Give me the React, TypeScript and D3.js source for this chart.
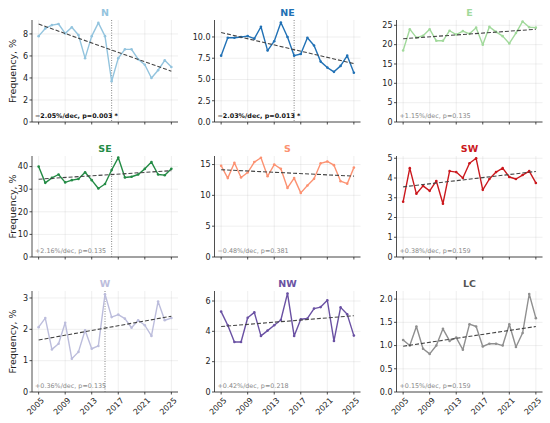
import React from 'react';
import * as d3 from 'd3';

const years = [2005, 2006, 2007, 2008, 2009, 2010, 2011, 2012, 2013, 2014, 2015, 2016, 2017, 2018, 2019, 2020, 2021, 2022, 2023, 2024, 2025];
const xTicks = [2005, 2009, 2013, 2017, 2021, 2025];

const nVals = [7.8, 8.5, 8.8, 8.9, 8.05, 8.6, 7.9, 5.8, 7.8, 9.0, 7.8, 3.7, 5.8, 6.6, 6.6, 5.7, 5.2, 4.0, 4.7, 5.6, 5.0];
const neVals = [7.8, 9.9, 9.9, 10.0, 10.1, 9.8, 11.2, 8.4, 9.5, 11.7, 10.0, 7.8, 8.0, 9.9, 9.0, 7.1, 6.4, 5.9, 6.6, 7.8, 5.8];
const eVals = [18.5, 24.0, 21.8, 22.3, 24.0, 21.0, 21.0, 23.6, 22.6, 23.5, 22.8, 24.4, 20.0, 24.6, 23.3, 22.2, 20.3, 23.0, 26.0, 24.5, 24.4];
const seVals = [40.0, 32.8, 35.0, 36.5, 33.0, 34.0, 34.5, 37.5, 34.0, 30.3, 32.3, 38.5, 44.0, 35.2, 35.5, 36.5, 39.0, 42.0, 36.5, 36.2, 39.0];
const sVals = [14.8, 12.8, 15.3, 12.9, 13.7, 15.4, 16.1, 13.1, 15.0, 14.3, 11.2, 12.8, 10.4, 11.6, 12.7, 15.2, 15.5, 14.9, 12.3, 11.9, 14.5];
const swVals = [2.8, 4.5, 3.2, 3.6, 3.35, 3.85, 2.7, 4.35, 4.3, 4.0, 4.75, 5.0, 3.4, 3.95, 4.3, 4.5, 4.05, 3.95, 4.15, 4.35, 3.75];
const wVals = [2.07, 2.36, 1.36, 1.54, 2.21, 1.06, 1.28, 1.97, 1.38, 1.47, 3.12, 2.39, 2.47, 2.34, 2.05, 2.29, 2.13, 1.79, 2.89, 2.29, 2.36];
const nwVals = [5.3, 4.4, 3.3, 3.3, 4.9, 5.25, 3.7, 4.05, 4.4, 4.75, 6.5, 3.7, 4.8, 4.85, 5.5, 5.6, 6.05, 3.37, 5.58, 5.12, 3.72];
const lcVals = [1.12, 1.0, 1.41, 0.93, 0.82, 1.0, 1.36, 1.1, 1.17, 0.91, 1.46, 1.41, 0.98, 1.04, 1.04, 1.0, 1.46, 0.97, 1.27, 2.11, 1.59];

const names = ['N', 'NE', 'E', 'SE', 'S', 'SW', 'W', 'NW', 'LC'];
const seriesValues = [nVals, neVals, eVals, seVals, sVals, swVals, wVals, nwVals, lcVals];
const lineColors = ['#93c4de', '#2171b5', '#a1d99b', '#238b45', '#fc9272', '#cb181d', '#bcbddc', '#6a51a3', '#8f8f8f'];
const titleColors = ['#93c4de', '#2171b5', '#a1d99b', '#238b45', '#fc9272', '#cb181d', '#bcbddc', '#6a51a3', '#555555'];
const yTickSets = [
  [0, 2, 4, 6, 8],
  [0, 2.5, 5, 7.5, 10],
  [0, 5, 10, 15, 20, 25],
  [0, 10, 20, 30, 40],
  [0, 5, 10, 15],
  [0, 1, 2, 3, 4, 5],
  [0, 1, 2, 3],
  [0, 2, 4, 6],
  [0, 0.5, 1, 1.5, 2],
];
const yTickFormats = ['d', '.1f', 'd', 'd', 'd', 'd', 'd', 'd', '.1f'];
const trendLabels = [
  '\u22122.05%/dec, p=0.003 *',
  '\u22122.03%/dec, p=0.013 *',
  '+1.15%/dec, p=0.135',
  '+2.16%/dec, p=0.135',
  '\u22120.48%/dec, p=0.381',
  '+0.38%/dec, p=0.159',
  '+0.36%/dec, p=0.135',
  '+0.42%/dec, p=0.218',
  '+0.15%/dec, p=0.159',
];
const significant = [true, true, false, false, false, false, false, false, false];
const changeYears = [2016, 2016, null, 2016, null, null, 2015, null, null];

const colLefts = [32, 214.5, 396.5];
const panelW = 146;
const rowTops = [20, 156, 291];
const rowBottoms = [122, 257, 392];
const FONT = 'DejaVu Sans, sans-serif';

function regression(xs: number[], ys: number[]) {
  const mx = d3.mean(xs) as number;
  const my = d3.mean(ys) as number;
  let sxy = 0, sxx = 0;
  xs.forEach((x, i) => { sxy += (x - mx) * (ys[i] - my); sxx += (x - mx) * (x - mx); });
  const b = sxy / sxx;
  return (x: number) => my + b * (x - mx);
}

function Panel({ idx }: { idx: number }) {
  const col = idx % 3;
  const row = Math.floor(idx / 3);
  const left = colLefts[col];
  const right = left + panelW;
  const top = rowTops[row];
  const bottom = rowBottoms[row];
  const vals = seriesValues[idx];
  const color = lineColors[idx];
  const fit = regression(years, vals);
  const x0 = years[0], x1 = years[years.length - 1];
  const allY = [...vals, fit(x0), fit(x1)];
  const mx = d3.max(allY) as number;
  const mn = d3.min(allY) as number;
  const x = d3.scaleLinear().domain([x0 - 1, x1 + 1]).range([left, right]);
  const y = d3.scaleLinear().domain([0, mx + 0.05 * (mx - mn)]).range([bottom, top]);
  const line = d3.line<number>().x((_, i) => x(years[i])).y((d) => y(d));
  const fmt = d3.format(yTickFormats[idx]);
  const cy = changeYears[idx];
  const sig = significant[idx];
  return (
    <g>
      {xTicks.map((t) => (
        <line key={'gx' + t} x1={x(t)} x2={x(t)} y1={top} y2={bottom} stroke="#b0b0b0" strokeOpacity={0.35} strokeWidth={0.6} />
      ))}
      {yTickSets[idx].map((t) => (
        <line key={'gy' + t} x1={left} x2={right} y1={y(t)} y2={y(t)} stroke="#b0b0b0" strokeOpacity={0.35} strokeWidth={0.6} />
      ))}
      <line x1={left} x2={left} y1={top} y2={bottom} stroke="#222" strokeWidth={0.8} />
      <line x1={left} x2={right} y1={bottom} y2={bottom} stroke="#222" strokeWidth={0.8} />
      {yTickSets[idx].map((t) => (
        <g key={'ty' + t}>
          <line x1={left - 2.5} x2={left} y1={y(t)} y2={y(t)} stroke="#222" strokeWidth={0.8} />
          <text x={left - 4} y={y(t)} dy="0.35em" textAnchor="end" fontSize={8} fontFamily={FONT} fill="#222">{fmt(t)}</text>
        </g>
      ))}
      {xTicks.map((t) => (
        <g key={'tx' + t}>
          <line x1={x(t)} x2={x(t)} y1={bottom} y2={bottom + 2.5} stroke="#222" strokeWidth={0.8} />
          {row === 2 && (
            <text transform={`translate(${x(t) + 2},${bottom + 5}) rotate(-45)`} textAnchor="end" dy="0.7em" fontSize={8} fontFamily={FONT} fill="#222">{t}</text>
          )}
        </g>
      ))}
      {cy !== null && (
        <line x1={x(cy)} x2={x(cy)} y1={top} y2={bottom} stroke="#666" strokeWidth={0.8} strokeDasharray="1,1.5" />
      )}
      <path d={line(vals) || ''} fill="none" stroke={color} strokeWidth={1.4} strokeLinejoin="round" />
      {vals.map((v, i) => (
        <circle key={'p' + i} cx={x(years[i])} cy={y(v)} r={1.3} fill={color} />
      ))}
      <line x1={x(x0)} x2={x(x1)} y1={y(fit(x0))} y2={y(fit(x1))} stroke="#444" strokeWidth={1.1} strokeDasharray="4,2" />
      <text x={left + 3} y={bottom - 4} fontSize={6.4} fontFamily={FONT} fontWeight={sig ? 'bold' : 'normal'} fill={sig ? '#111' : '#888'}>{trendLabels[idx]}</text>
      <text x={(left + right) / 2} y={top - 4} textAnchor="middle" fontSize={9.5} fontWeight="bold" fontFamily={FONT} fill={titleColors[idx]}>{names[idx]}</text>
      {col === 0 && (
        <text transform={`translate(13,${(top + bottom) / 2}) rotate(-90)`} textAnchor="middle" dy="0.35em" fontSize={9.5} fontFamily={FONT} fill="#222">Frequency, %</text>
      )}
    </g>
  );
}

export default function App() {
  return (
    <svg width={550} height={423} style={{ position: 'fixed', left: 0, top: 0, background: '#fff' }}>
      <rect width={550} height={423} fill="#fff" />
      {names.map((_, i) => (
        <Panel key={i} idx={i} />
      ))}
    </svg>
  );
}
